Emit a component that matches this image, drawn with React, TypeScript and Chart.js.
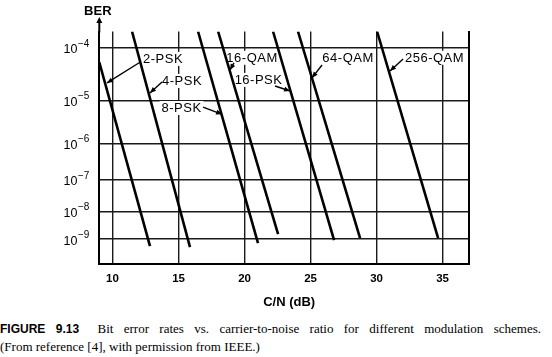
import React, { useEffect, useRef } from 'react';
import { Chart, registerables } from 'chart.js';

Chart.register(...registerables);

// Modulation schemes (one straight line each)
const schemes = ['2-PSK', '4-PSK', '8-PSK', '16-QAM', '16-PSK', '64-QAM', '256-QAM'];
// C/N (dB) at the start and end of each line
const cnStart = [9.0, 11.48, 16.48, 18.0, 22.16, 24.05, 30.04];
const cnEnd = [12.84, 15.87, 21.02, 22.54, 26.78, 28.75, 34.66];
// BER exponent n (BER = 10^-n) at the start and end of each line
const berExpStart = [4.25, 3.73, 3.73, 3.73, 3.73, 3.73, 3.73];
const berExpEnd = [9.27, 9.31, 9.15, 8.81, 9.04, 8.96, 8.96];

// Axis ticks
const xTicks = [10, 15, 20, 25, 30, 35];
const yTicks = [4, 5, 6, 7, 8, 9];

// Annotation labels (data units: C/N dB, BER exponent)
const labelX = [13.83, 15.27, 15.23, 20.57, 21.06, 27.84, 34.39];
const labelY = [4.19, 4.6, 5.16, 4.17, 4.58, 4.17, 4.17];
const arrowFromX = [12.08, 13.75, 16.86, 19.2, 22.31, 25.87, 32.01];
const arrowFromY = [4.25, 4.62, 5.14, 4.26, 4.7, 4.3, 4.19];
const arrowToX = [9.58, 12.84, 18.3, 18.9, 23.45, 25.11, 31.02];
const arrowToY = [4.64, 4.84, 5.3, 4.39, 4.8, 4.54, 4.41];

const SANS = '"Liberation Sans", Arial, Helvetica, sans-serif';

function arrowHead(ctx: CanvasRenderingContext2D, x0: number, y0: number, x1: number, y1: number, len: number, w: number) {
  const a = Math.atan2(y1 - y0, x1 - x0);
  ctx.beginPath();
  ctx.moveTo(x1, y1);
  ctx.lineTo(x1 - len * Math.cos(a) + w * Math.sin(a), y1 - len * Math.sin(a) - w * Math.cos(a));
  ctx.lineTo(x1 - len * Math.cos(a) - w * Math.sin(a), y1 - len * Math.sin(a) + w * Math.cos(a));
  ctx.closePath();
  ctx.fill();
}

const annotPlugin = {
  id: 'annots',
  beforeDatasetsDraw(chart: any) {
    const { ctx, scales } = chart;
    const xs = scales.x;
    const ys = scales.y;
    ctx.save();
    ctx.font = `13px ${SANS}`;
    (ctx as any).letterSpacing = '0.5px';
    ctx.textAlign = 'center';
    ctx.textBaseline = 'middle';
    // white boxes behind labels (break the grid lines)
    schemes.forEach((s, i) => {
      const px = xs.getPixelForValue(labelX[i]);
      const py = ys.getPixelForValue(labelY[i]);
      const w = ctx.measureText(s).width;
      ctx.fillStyle = '#fff';
      ctx.fillRect(px - w / 2 - 2, py - 7, w + 4, 14);
    });
    schemes.forEach((s, i) => {
      const px = xs.getPixelForValue(labelX[i]);
      const py = ys.getPixelForValue(labelY[i]);
      ctx.fillStyle = '#000';
      ctx.fillText(s, px, py + 0.5);
      const x0 = xs.getPixelForValue(arrowFromX[i]);
      const y0 = ys.getPixelForValue(arrowFromY[i]);
      const x1 = xs.getPixelForValue(arrowToX[i]);
      const y1 = ys.getPixelForValue(arrowToY[i]);
      ctx.strokeStyle = '#000';
      ctx.lineWidth = 1.4;
      ctx.beginPath();
      ctx.moveTo(x0, y0);
      ctx.lineTo(x1, y1);
      ctx.stroke();
      arrowHead(ctx, x0, y0, x1, y1, 6, 2.5);
    });
    ctx.restore();
  },
  afterDraw(chart: any) {
    const { ctx, chartArea, scales } = chart;
    const ys = scales.y;
    ctx.save();
    ctx.strokeStyle = '#000';
    ctx.fillStyle = '#000';
    ctx.lineWidth = 2;
    // y axis arrow extension
    ctx.beginPath();
    ctx.moveTo(chartArea.left, chartArea.top + 1);
    ctx.lineTo(chartArea.left, 22);
    ctx.stroke();
    arrowHead(ctx, chartArea.left, 30, chartArea.left, 17, 6, 3);
    ctx.font = `bold 13px ${SANS}`;
    ctx.textAlign = 'center';
    ctx.textBaseline = 'middle';
    ctx.fillText('BER', chartArea.left - 1.5, 11);
    ctx.fillText('C/N (dB)', (chartArea.left + chartArea.right) / 2 + 5, 302);
    // y tick labels: 10 with a raised exponent
    const right = chartArea.left - 10;
    ys.ticks.forEach((t: any) => {
      const py = ys.getPixelForValue(t.value);
      const base = '10';
      const exp = '\u2212' + String(t.value);
      ctx.font = `12.5px ${SANS}`;
      const w1 = ctx.measureText(base).width;
      ctx.font = `10px ${SANS}`;
      const w2 = ctx.measureText(exp).width;
      ctx.textAlign = 'left';
      ctx.textBaseline = 'middle';
      ctx.font = `12.5px ${SANS}`;
      ctx.fillText(base, right - w2 - w1 - 0.5, py + 2);
      ctx.font = `10px ${SANS}`;
      ctx.fillText(exp, right - w2, py - 4);
    });
    ctx.restore();
  },
};

export default function App() {
  const ref = useRef<HTMLCanvasElement | null>(null);

  useEffect(() => {
    if (!ref.current) return;
    const gridColor = '#1a1a1a';
    const chart = new Chart(ref.current, {
      type: 'line',
      data: {
        datasets: schemes.map((s, i) => ({
          label: s,
          data: [
            { x: cnStart[i], y: berExpStart[i] },
            { x: cnEnd[i], y: berExpEnd[i] },
          ],
          borderColor: '#000',
          borderWidth: 2.6,
          pointRadius: 0,
          fill: false,
          tension: 0,
        })),
      },
      options: {
        animation: false,
        responsive: false,
        devicePixelRatio: 1,
        layout: { padding: { top: 31.5, right: 83, bottom: 0, left: 0 } },
        plugins: { legend: { display: false }, tooltip: { enabled: false } },
        scales: {
          x: {
            type: 'linear',
            min: 9,
            max: 37,
            bounds: 'data',
            afterBuildTicks: (s: any) => {
              s.ticks = xTicks.map((v) => ({ value: v }));
            },
            afterFit: (s: any) => {
              s.height = 48;
            },
            grid: { color: gridColor, lineWidth: 1.4, drawTicks: false },
            border: { color: '#000', width: 2 },
            ticks: {
              color: '#000',
              padding: 8,
              maxRotation: 0,
              autoSkip: false,
              font: { family: SANS, size: 11.5, weight: 'bold' },
            },
          },
          y: {
            type: 'logarithmic',
            reverse: true,
            min: 3.73,
            max: 10,
            bounds: 'data',
            position: 'left',
            afterBuildTicks: (s: any) => {
              s.ticks = yTicks.map((v) => ({ value: v }));
            },
            afterFit: (s: any) => {
              s.width = 99.3;
            },
            grid: { color: gridColor, lineWidth: 1.6, drawTicks: false },
            border: { color: '#000', width: 2 },
            ticks: { display: false },
          },
          y2: {
            type: 'linear',
            position: 'right',
            min: 0,
            max: 1,
            grid: { display: false, drawTicks: false },
            ticks: { display: false },
            border: { display: true, color: '#000', width: 2 },
            afterFit: (s: any) => {
              s.width = 0;
            },
          },
        },
      } as any,
      plugins: [annotPlugin],
    });
    return () => chart.destroy();
  }, []);

  return (
    <div style={{ position: 'absolute', left: 0, top: 0, width: 552, height: 357, background: '#fff', overflow: 'hidden' }}>
      <canvas ref={ref} width={552} height={312} style={{ display: 'block', width: 552, height: 312 }} />
      <div
        style={{
          position: 'absolute',
          left: 0,
          top: 320,
          width: 541,
          fontFamily: '"Liberation Serif", "Times New Roman", serif',
          fontSize: 13,
          lineHeight: '18px',
          color: '#000',
        }}
      >
        <div style={{ textAlign: 'justify', textAlignLast: 'justify' as any, whiteSpace: 'nowrap' as any }}>
          <span style={{ fontFamily: SANS, fontWeight: 'bold', fontSize: 12, marginRight: 8 }}>FIGURE 9.13</span>
          {' '}Bit error rates vs. carrier-to-noise ratio for different modulation schemes.
        </div>
        <div>(From reference [4], with permission from IEEE.)</div>
      </div>
    </div>
  );
}
